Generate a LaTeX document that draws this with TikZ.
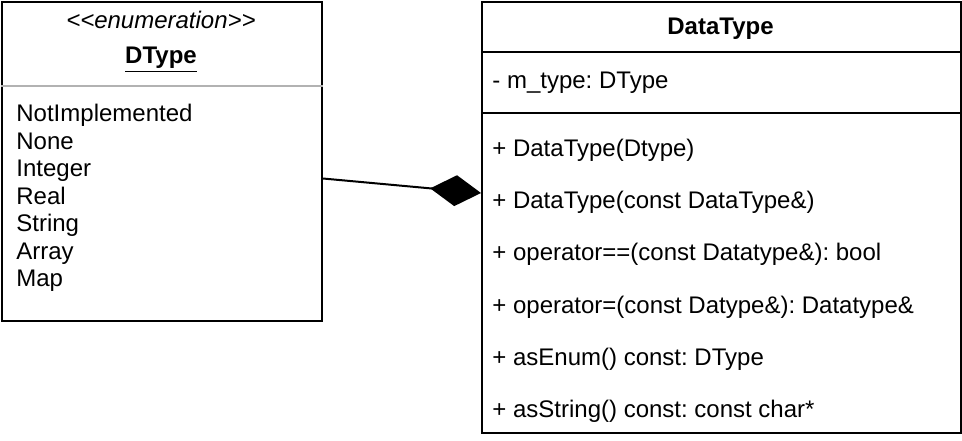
\documentclass[tikz,border=0pt]{standalone}
\usepackage{fontspec}
\setmainfont{Liberation Sans}
\usetikzlibrary{positioning,arrows.meta}
\frenchspacing

\begin{document}
\begin{tikzpicture}[x=0.5pt,y=-0.5pt,
    box/.style={draw, line width=1pt, inner sep=0pt, anchor=north west},
    txt/.style={font=\fontsize{12}{13.75}\selectfont, inner sep=0pt,
      text height=8.7pt, text depth=2.5pt, anchor=west},
    node distance=14.55pt]
  \useasboundingbox (0,0) rectangle (962,440);

  % enumeration
  \node[box, minimum width=160pt, minimum height=159.5pt] (dtype) at (1,1) {};
  \node[txt, anchor=center, font=\fontsize{12}{13.75}\selectfont\itshape] (stereo) at (161,22)
    {<\kern0pt<enumeration>\kern0pt>};
  \node[txt, anchor=center, font=\fontsize{12}{13.75}\selectfont\bfseries] (ename) at (161,57) {\underline{DType}};
  \draw[gray!60, line width=1pt] (dtype.west |- 0,86) -- (dtype.east |- 0,86);
  \node[txt, anchor=north west, align=left, text height=, text depth=] (lits) at (16,104)
    {NotImplemented\\None\\Integer\\Real\\String\\Array\\Map};

  % class
  \node[box, minimum width=239.5pt, minimum height=215.5pt] (datatype) at (481,1) {};
  \node[txt, anchor=center, font=\fontsize{12}{13.75}\selectfont\bfseries] (cname) at (720.5,28) {DataType};
  \draw[line width=1pt] (datatype.west |- 0,52) -- (datatype.east |- 0,52);
  \draw[line width=1pt] (datatype.west |- 0,113) -- (datatype.east |- 0,113);
  \node[txt] (attr) at (492,82) {- m\_type: DType};
  \node[txt] (m1) at (492,150) {+ DataType(Dtype)};
  \node[txt, below=of m1.south west, anchor=north west] (m2) {+ DataType(const DataType\&)};
  \node[txt, below=of m2.south west, anchor=north west] (m3) {+ operator==(const Datatype\&): bool};
  \node[txt, below=of m3.south west, anchor=north west] (m4) {+ operator=(const Datype\&): Datatype\&};
  \node[txt, below=of m4.south west, anchor=north west] (m5) {+ asEnum() const: DType};
  \node[txt, below=of m5.south west, anchor=north west] (m6) {+ asString() const: const char*};

  % composition
  \draw[line width=1pt, -{Diamond[length=25.5pt, width=15.5pt]}]
    ([yshift=-8.5pt]dtype.east) -- ([yshift=12.25pt]datatype.west);
\end{tikzpicture}
\end{document}
